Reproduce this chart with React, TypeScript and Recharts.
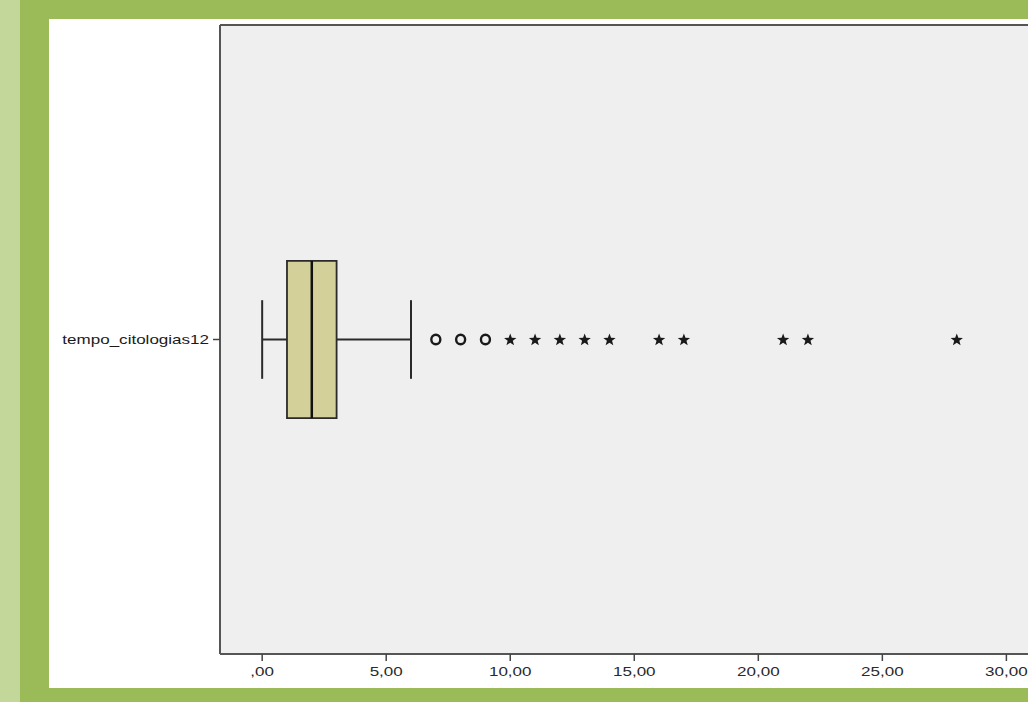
import React from 'react';
import {
  ScatterChart,
  Scatter,
  XAxis,
  YAxis,
  CartesianGrid,
  ReferenceArea,
  ReferenceLine,
} from 'recharts';

// Box plot of tempo_citologias12 (SPSS style, horizontal)
const variableName = 'tempo_citologias12';
const boxStats = [0, 1, 2, 3, 6]; // lower whisker, Q1, median, Q3, upper whisker
const mildOutliers = [7, 8, 9];
const extremeOutliers = [10, 11, 12, 13, 14, 16, 17, 21, 22, 28];
const xTicks = [0, 5, 10, 15, 20, 25, 30];

const ROW = 1; // y position of the single category
const BOX_HALF = 0.25;
const CAP_HALF = 0.125;
const STRETCH = 1.42; // the original screenshot is stretched horizontally

const mildData = mildOutliers.map((v) => ({ value: v, pos: ROW }));
const extremeData = extremeOutliers.map((v) => ({ value: v, pos: ROW }));

const fmt = (v: number) => (v === 0 ? ',00' : v.toFixed(2).replace('.', ','));

function XTick({ x, y, payload }: any) {
  return (
    <text
      transform={`translate(${x},${y + 13}) scale(${STRETCH},1)`}
      textAnchor="middle"
      fontSize={12}
      fontFamily="Liberation Sans, Arial, sans-serif"
      fill="#2a2a2a"
    >
      {fmt(payload.value)}
    </text>
  );
}

function YTick({ x, y }: any) {
  return (
    <text
      transform={`translate(${x},${y}) scale(${STRETCH},1)`}
      textAnchor="end"
      dy="0.355em"
      fontSize={12}
      fontFamily="Liberation Sans, Arial, sans-serif"
      fill="#1a1a1a"
    >
      {variableName}
    </text>
  );
}

function CircleMark({ cx, cy }: any) {
  return <ellipse cx={cx} cy={cy} rx={4.5} ry={4.8} fill="none" stroke="#1a1a1a" strokeWidth={2.4} />;
}

function StarMark({ cx, cy }: any) {
  const pts: string[] = [];
  for (let i = 0; i < 10; i++) {
    const r = i % 2 === 0 ? 6.5 : 2.7;
    const a = -Math.PI / 2 + (i * Math.PI) / 5;
    pts.push(`${cx + r * Math.cos(a)},${cy + r * Math.sin(a) + 0.5}`);
  }
  return <polygon points={pts.join(' ')} fill="#1a1a1a" />;
}

export default function App() {
  const [lo, q1, med, q3, hi] = boxStats;
  const line = { stroke: '#2a2a2a', strokeWidth: 2 };
  return (
    <div
      style={{
        position: 'absolute',
        left: 0,
        top: 0,
        width: 1028,
        height: 702,
        overflow: 'hidden',
        background: '#9bbb59',
      }}
    >
      <div style={{ position: 'absolute', left: 0, top: 0, width: 20, height: 702, background: '#c4d79b' }} />
      <div style={{ position: 'absolute', left: 49, top: 19, width: 1100, height: 669, background: '#fff' }}>
        <ScatterChart width={1007} height={669} margin={{ top: 6, right: 0, bottom: 0, left: 0 }}>
          <CartesianGrid fill="#efefef" horizontal={false} vertical={false} />
          <XAxis
            type="number"
            dataKey="value"
            domain={[-1.7, 32]}
            ticks={xTicks}
            height={34}
            tickSize={7}
            tickMargin={2}
            tick={<XTick />}
            axisLine={{ stroke: '#555', strokeWidth: 2 }}
            tickLine={{ stroke: '#444', strokeWidth: 1.5 }}
          />
          <YAxis
            type="number"
            dataKey="pos"
            domain={[0, 2]}
            ticks={[ROW]}
            width={171}
            tickSize={7}
            tickMargin={4}
            tick={<YTick />}
            axisLine={{ stroke: '#555', strokeWidth: 2 }}
            tickLine={{ stroke: '#444', strokeWidth: 1.5 }}
          />
          <ReferenceLine y={2} stroke="#555" strokeWidth={2} />
          {/* whiskers */}
          <ReferenceLine segment={[{ x: lo, y: ROW }, { x: q1, y: ROW }]} {...line} />
          <ReferenceLine segment={[{ x: q3, y: ROW }, { x: hi, y: ROW }]} {...line} />
          <ReferenceLine segment={[{ x: lo, y: ROW - CAP_HALF }, { x: lo, y: ROW + CAP_HALF }]} {...line} />
          <ReferenceLine segment={[{ x: hi, y: ROW - CAP_HALF }, { x: hi, y: ROW + CAP_HALF }]} {...line} />
          {/* box */}
          <ReferenceArea
            x1={q1}
            x2={q3}
            y1={ROW - BOX_HALF}
            y2={ROW + BOX_HALF}
            fill="#d4d09a"
            fillOpacity={1}
            stroke="#2a2a2a"
            strokeWidth={1.8}
          />
          <ReferenceLine
            segment={[{ x: med, y: ROW - BOX_HALF }, { x: med, y: ROW + BOX_HALF }]}
            stroke="#111"
            strokeWidth={2.5}
          />
          <Scatter data={mildData} shape={<CircleMark />} isAnimationActive={false} />
          <Scatter data={extremeData} shape={<StarMark />} isAnimationActive={false} />
        </ScatterChart>
      </div>
    </div>
  );
}
